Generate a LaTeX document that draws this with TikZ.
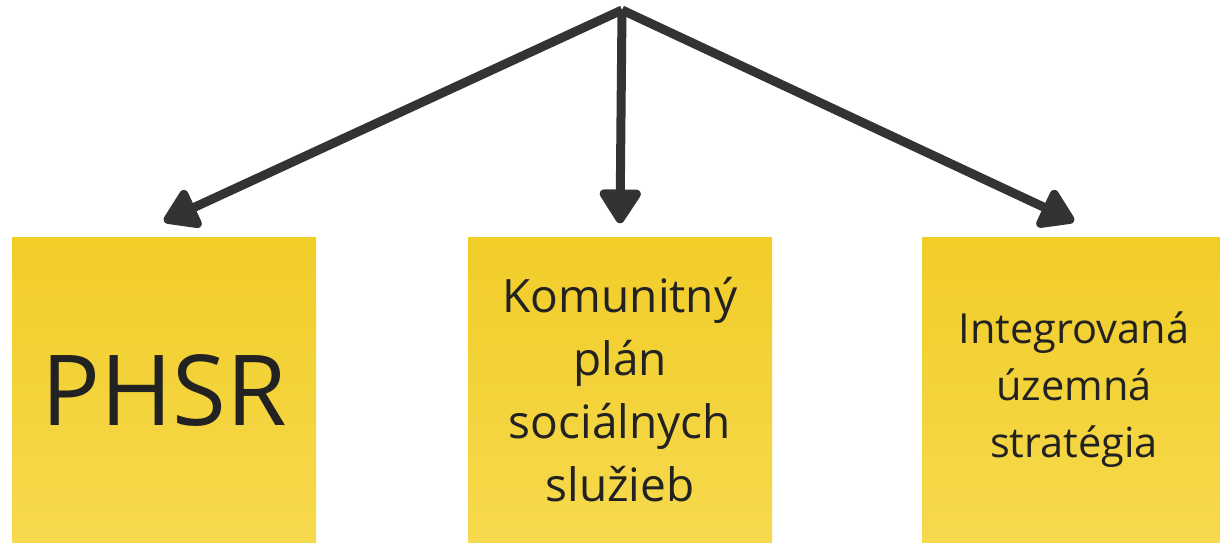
\documentclass[tikz,border=0pt]{standalone}
\usepackage{fontspec}
\setmainfont{Open Sans}
\usetikzlibrary{arrows.meta}
\definecolor{notetop}{HTML}{F1CD28}
\definecolor{notebot}{HTML}{F6D94D}
\definecolor{inkgray}{HTML}{333333}
\definecolor{textgray}{HTML}{222222}
\begin{document}
\begin{tikzpicture}[x=1pt,y=-1pt]
        \tikzstyle{note}=[top color=notetop, bottom color=notebot, minimum width=304pt, minimum height=305pt, inner sep=0pt, align=center, text=textgray]
        \tikzstyle{arr}=[draw=inkgray, line width=9pt, -{Triangle[round, length=38pt, width=46pt]}]
        \useasboundingbox (0,0) rectangle (1220,545);
        \node[note, font=\fontsize{98}{98}\selectfont] (phsr) at (164,390) {PHSR};
        \node[note, font=\fontsize{46}{63}\selectfont] (kps) at (620,390) {Komunitný\\plán\\sociálnych\\služieb};
        \node[note, font=\fontsize{41.5}{57}\selectfont] (ius) at (1074,390) {Integrovaná\\územná\\stratégia};
        \coordinate (top) at (622,10);
        \draw[arr] (top) -- ([yshift=16pt]phsr.north);
        \draw[arr] (top) -- ([yshift=14pt]kps.north);
        \draw[arr] (top) -- ([yshift=16pt]ius.north);
    \end{tikzpicture}
\end{document}
